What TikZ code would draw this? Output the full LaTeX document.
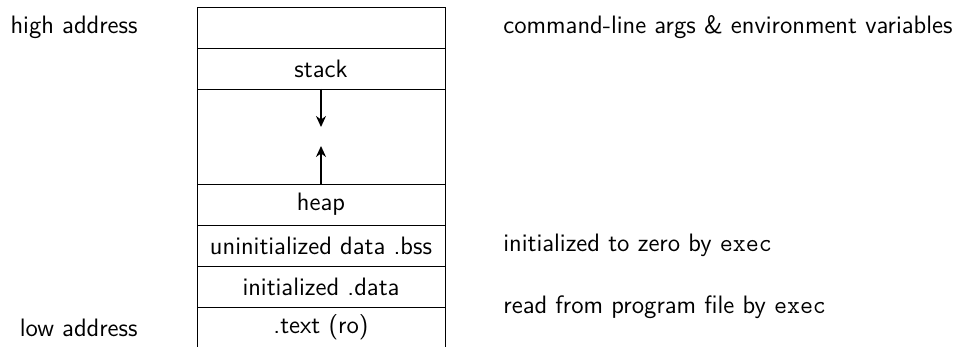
\documentclass[tikz,border=0pt]{standalone}
\usetikzlibrary{positioning,arrows.meta}

\begin{document}
\begin{tikzpicture}
	[font=\sffamily\fontsize{12.6}{15}\selectfont,
	seg/.style={draw, minimum width=124pt, minimum height=20.5pt, inner sep=0pt, outer sep=0pt},
	addr/.style={inner sep=0pt},
	note/.style={inner sep=0pt},
	growth/.style={-{Stealth[length=5.5pt,width=5pt]}, thick}]
	\useasboundingbox (0,0) rectangle (478.5pt,-173.5pt);
	% memory segments, top to bottom
	\node[seg] (args) at (160.5pt,-13.75pt) {};
	\node[seg, below=0pt of args] (stack) {stack};
	\node[seg, below=0pt of stack, minimum height=47.5pt] (free) {};
	\node[seg, below=0pt of free] (heap) {heap};
	\node[seg, below=0pt of heap] (bss) {uninitialized data .bss};
	\node[seg, below=0pt of bss] (data) {initialized .data};
	\node[seg, below=0pt of data] (text) {.text (ro)};
	% growth
	\coordinate[below=19pt of stack.south] (stackgrow);
	\coordinate[above=19pt of heap.north] (heapgrow);
	\draw[growth] (stack.south) -- (stackgrow);
	\draw[growth] (heap.north) -- (heapgrow);
	% labels
	\node[addr, left=29.5pt of args.west] (high) {high address};
	\node[addr, left=29.5pt of text.west] (low) {low address};
	\node[note, right=29pt of args.east] (env) {command-line args \& environment variables};
	\node[note, right=29pt of bss.east] (zero) {initialized to zero by \texttt{exec}};
	\node[note, right=29pt of data.south east] (load) {read from program file by \texttt{exec}};
\end{tikzpicture}
\end{document}
